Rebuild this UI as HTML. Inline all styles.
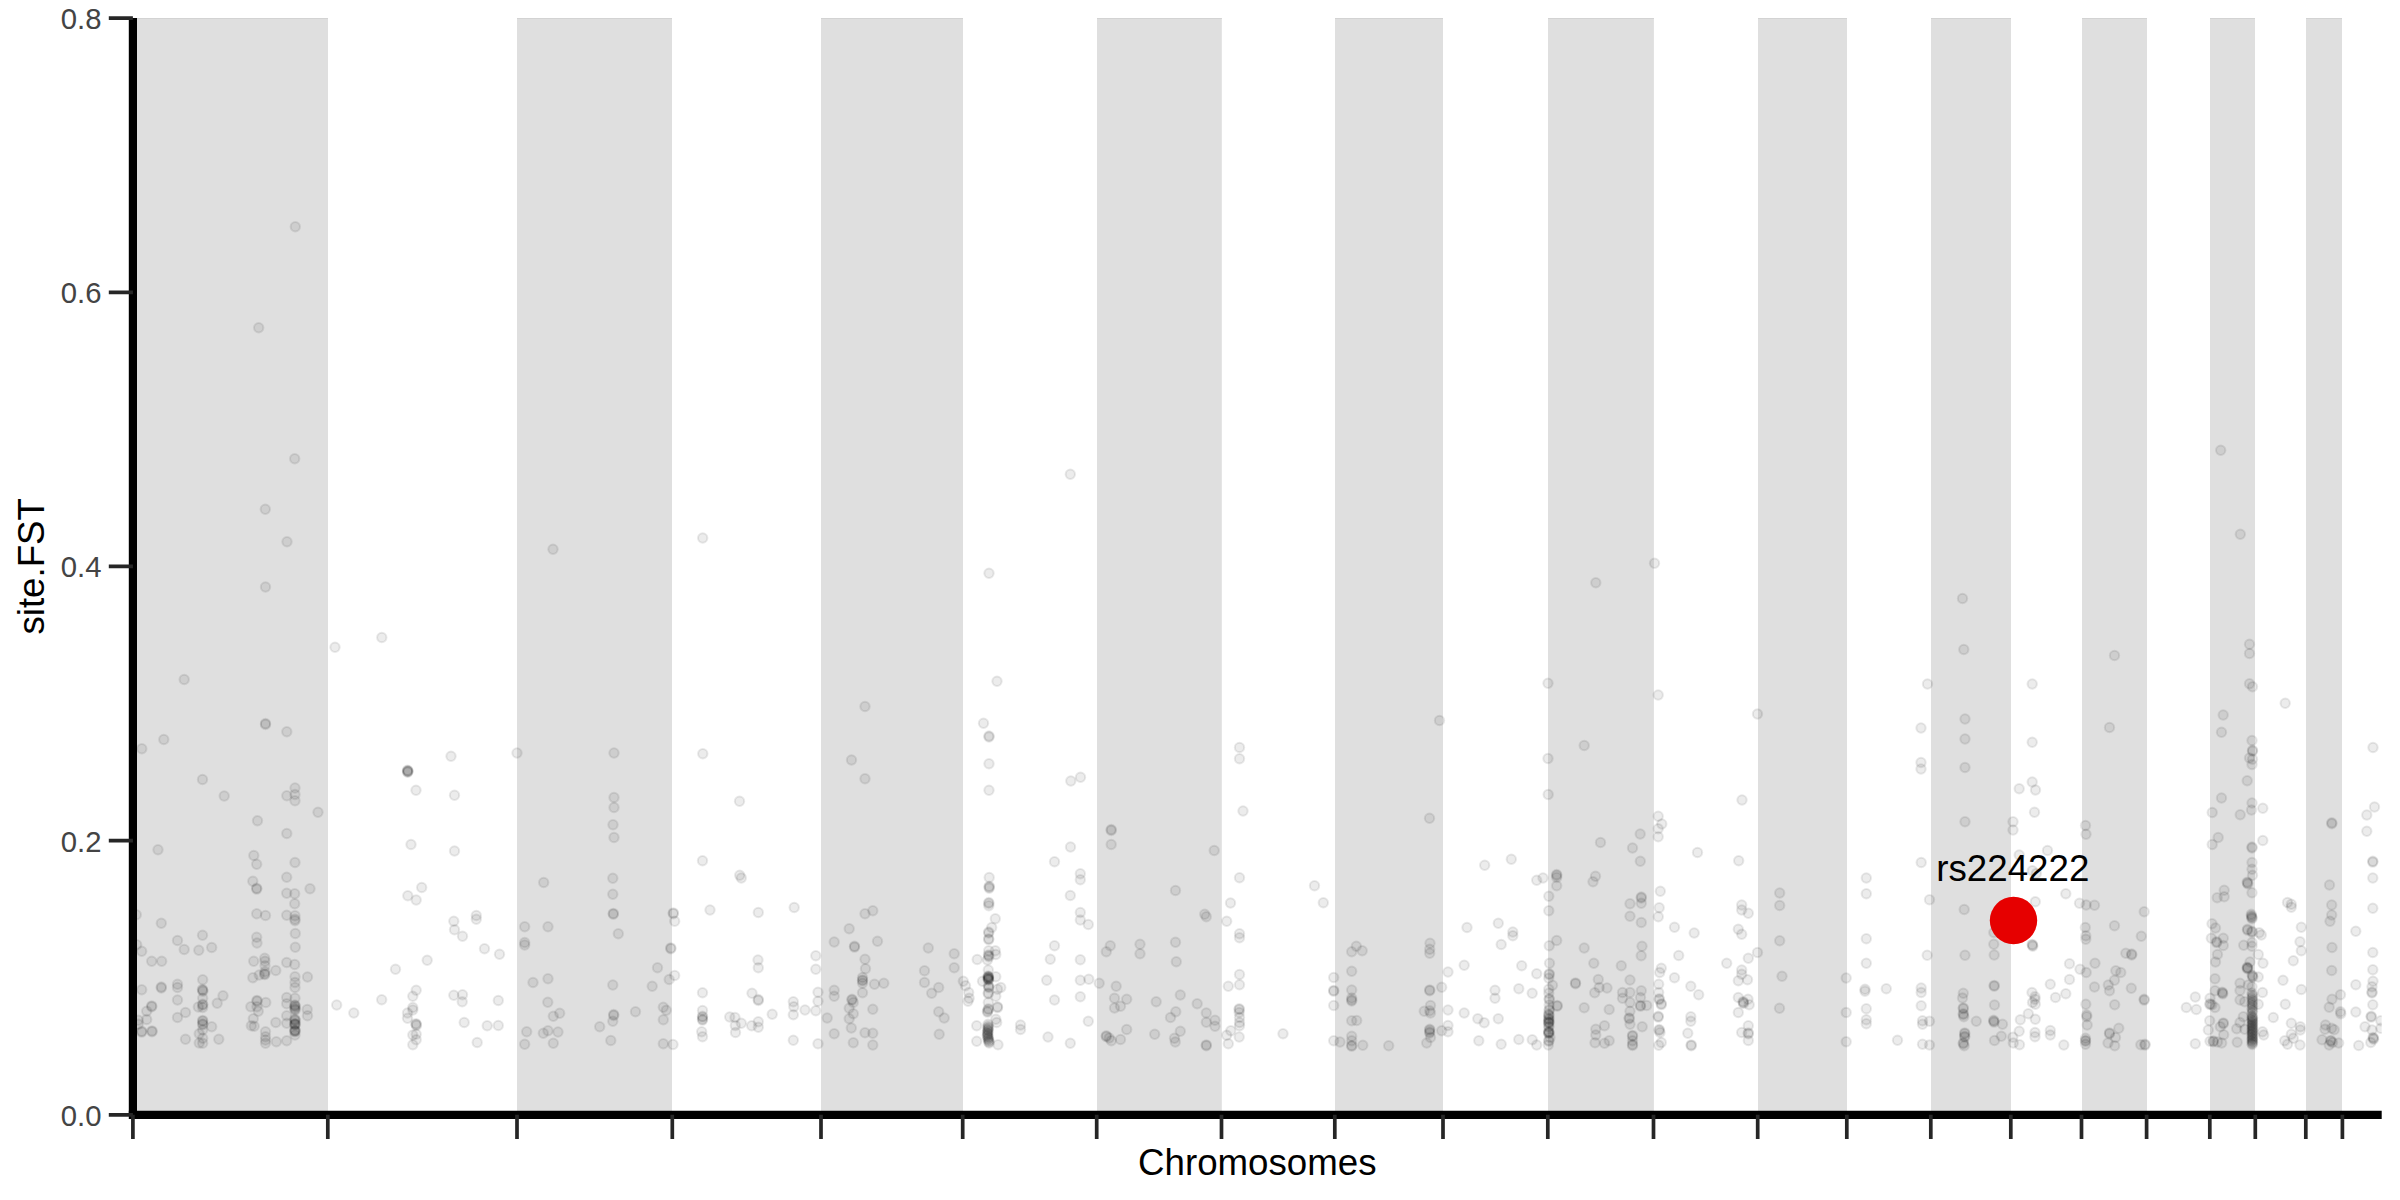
<!DOCTYPE html><html><head><meta charset="utf-8"><title>Manhattan plot</title><style>html,body{margin:0;padding:0;background:#fff}body{width:2400px;height:1200px;overflow:hidden}</style></head><body><svg width="2400" height="1200" viewBox="0 0 2400 1200" style="display:block">
<rect width="2400" height="1200" fill="#fff"/>
<rect x="132.9" y="18" width="195.1" height="1096.8" fill="#dfdfdf"/>
<rect x="132.9" y="18" width="195.1" height="1" fill="#d3d3d3"/>
<rect x="517.0" y="18" width="155.0" height="1096.8" fill="#dfdfdf"/>
<rect x="517.0" y="18" width="155.0" height="1" fill="#d3d3d3"/>
<rect x="821.0" y="18" width="142.0" height="1096.8" fill="#dfdfdf"/>
<rect x="821.0" y="18" width="142.0" height="1" fill="#d3d3d3"/>
<rect x="1097.0" y="18" width="124.8" height="1096.8" fill="#dfdfdf"/>
<rect x="1097.0" y="18" width="124.8" height="1" fill="#d3d3d3"/>
<rect x="1335.0" y="18" width="108.0" height="1096.8" fill="#dfdfdf"/>
<rect x="1335.0" y="18" width="108.0" height="1" fill="#d3d3d3"/>
<rect x="1548.0" y="18" width="105.9" height="1096.8" fill="#dfdfdf"/>
<rect x="1548.0" y="18" width="105.9" height="1" fill="#d3d3d3"/>
<rect x="1758.0" y="18" width="89.0" height="1096.8" fill="#dfdfdf"/>
<rect x="1758.0" y="18" width="89.0" height="1" fill="#d3d3d3"/>
<rect x="1931.0" y="18" width="80.0" height="1096.8" fill="#dfdfdf"/>
<rect x="1931.0" y="18" width="80.0" height="1" fill="#d3d3d3"/>
<rect x="2082.0" y="18" width="65.0" height="1096.8" fill="#dfdfdf"/>
<rect x="2082.0" y="18" width="65.0" height="1" fill="#d3d3d3"/>
<rect x="2210.0" y="18" width="45.0" height="1096.8" fill="#dfdfdf"/>
<rect x="2210.0" y="18" width="45.0" height="1" fill="#d3d3d3"/>
<rect x="2306.0" y="18" width="36.0" height="1096.8" fill="#dfdfdf"/>
<rect x="2306.0" y="18" width="36.0" height="1" fill="#d3d3d3"/>
<clipPath id="pc"><rect x="132.9" y="18.1" width="2248.8" height="1096.7"/></clipPath>
<g clip-path="url(#pc)" fill="#000" fill-opacity=".075" stroke="#000" stroke-opacity=".085" stroke-width="2">
<circle cx="988.0" cy="1026.0" r="4.7"/>
<circle cx="988.2" cy="1027.1" r="4.7"/>
<circle cx="988.4" cy="1028.1" r="4.7"/>
<circle cx="987.7" cy="1029.2" r="4.7"/>
<circle cx="988.0" cy="1030.2" r="4.7"/>
<circle cx="988.2" cy="1031.3" r="4.7"/>
<circle cx="987.5" cy="1032.4" r="4.7"/>
<circle cx="987.7" cy="1033.4" r="4.7"/>
<circle cx="987.9" cy="1034.5" r="4.7"/>
<circle cx="987.3" cy="1035.5" r="4.7"/>
<circle cx="987.8" cy="1036.6" r="4.7"/>
<circle cx="988.4" cy="1037.6" r="4.7"/>
<circle cx="988.0" cy="1038.7" r="4.7"/>
<circle cx="988.5" cy="1039.8" r="4.7"/>
<circle cx="989.0" cy="1040.9" r="4.7"/>
<circle cx="988.7" cy="1041.9" r="4.7"/>
<circle cx="989.2" cy="1043.0" r="4.7"/>
<circle cx="2252.0" cy="993.0" r="4.7"/>
<circle cx="2252.3" cy="994.7" r="4.7"/>
<circle cx="2252.6" cy="996.3" r="4.7"/>
<circle cx="2252.0" cy="998.0" r="4.7"/>
<circle cx="2252.3" cy="999.7" r="4.7"/>
<circle cx="2252.6" cy="1001.3" r="4.7"/>
<circle cx="2252.0" cy="1003.0" r="4.7"/>
<circle cx="2252.3" cy="1004.7" r="4.7"/>
<circle cx="2252.6" cy="1006.3" r="4.7"/>
<circle cx="2252.0" cy="1008.0" r="4.7"/>
<circle cx="2252.3" cy="1009.7" r="4.7"/>
<circle cx="2252.6" cy="1011.3" r="4.7"/>
<circle cx="2252.0" cy="1013.0" r="4.7"/>
<circle cx="2252.0" cy="1016.0" r="4.7"/>
<circle cx="2252.3" cy="1017.0" r="4.7"/>
<circle cx="2252.6" cy="1018.0" r="4.7"/>
<circle cx="2252.0" cy="1019.1" r="4.7"/>
<circle cx="2252.3" cy="1020.1" r="4.7"/>
<circle cx="2252.6" cy="1021.1" r="4.7"/>
<circle cx="2252.0" cy="1022.1" r="4.7"/>
<circle cx="2252.3" cy="1023.1" r="4.7"/>
<circle cx="2252.6" cy="1024.1" r="4.7"/>
<circle cx="2252.0" cy="1025.2" r="4.7"/>
<circle cx="2252.3" cy="1026.2" r="4.7"/>
<circle cx="2252.6" cy="1027.2" r="4.7"/>
<circle cx="2252.0" cy="1028.2" r="4.7"/>
<circle cx="2252.3" cy="1029.2" r="4.7"/>
<circle cx="2252.6" cy="1030.2" r="4.7"/>
<circle cx="2252.0" cy="1031.3" r="4.7"/>
<circle cx="2252.3" cy="1032.3" r="4.7"/>
<circle cx="2252.6" cy="1033.3" r="4.7"/>
<circle cx="2252.0" cy="1034.3" r="4.7"/>
<circle cx="2252.3" cy="1035.3" r="4.7"/>
<circle cx="2252.6" cy="1036.4" r="4.7"/>
<circle cx="2252.0" cy="1037.4" r="4.7"/>
<circle cx="2252.3" cy="1038.4" r="4.7"/>
<circle cx="2252.6" cy="1039.4" r="4.7"/>
<circle cx="2252.0" cy="1040.4" r="4.7"/>
<circle cx="2252.3" cy="1041.4" r="4.7"/>
<circle cx="2252.6" cy="1042.5" r="4.7"/>
<circle cx="2252.0" cy="1043.5" r="4.7"/>
<circle cx="2252.3" cy="1044.5" r="4.7"/>
<circle cx="136.3" cy="914.7" r="4.7"/>
<circle cx="136.7" cy="944.7" r="4.7"/>
<circle cx="141.7" cy="951.3" r="4.7"/>
<circle cx="161.3" cy="923.3" r="4.7"/>
<circle cx="151.7" cy="961.3" r="4.7"/>
<circle cx="161.7" cy="961.2" r="4.7"/>
<circle cx="141.7" cy="989.7" r="4.7"/>
<circle cx="161.3" cy="987.0" r="4.7"/>
<circle cx="161.3" cy="988.0" r="4.7"/>
<circle cx="151.7" cy="1005.9" r="4.7"/>
<circle cx="151.7" cy="1006.8" r="4.7"/>
<circle cx="146.7" cy="1011.3" r="4.7"/>
<circle cx="146.7" cy="1019.5" r="4.7"/>
<circle cx="138.3" cy="1020.3" r="4.7"/>
<circle cx="141.7" cy="1031.2" r="4.7"/>
<circle cx="141.7" cy="1032.1" r="4.7"/>
<circle cx="152.0" cy="1030.9" r="4.7"/>
<circle cx="152.0" cy="1031.8" r="4.7"/>
<circle cx="138.3" cy="1024.2" r="4.7"/>
<circle cx="177.5" cy="940.5" r="4.7"/>
<circle cx="177.5" cy="984.2" r="4.7"/>
<circle cx="177.5" cy="987.5" r="4.7"/>
<circle cx="177.5" cy="1000.0" r="4.7"/>
<circle cx="177.5" cy="1017.5" r="4.7"/>
<circle cx="184.2" cy="949.5" r="4.7"/>
<circle cx="185.5" cy="1012.5" r="4.7"/>
<circle cx="185.5" cy="1039.2" r="4.7"/>
<circle cx="202.5" cy="935.3" r="4.7"/>
<circle cx="198.8" cy="950.2" r="4.7"/>
<circle cx="211.7" cy="947.5" r="4.7"/>
<circle cx="202.7" cy="979.7" r="4.7"/>
<circle cx="202.4" cy="989.4" r="4.7"/>
<circle cx="202.7" cy="990.3" r="4.7"/>
<circle cx="202.9" cy="991.2" r="4.7"/>
<circle cx="202.7" cy="998.3" r="4.7"/>
<circle cx="202.7" cy="1004.2" r="4.7"/>
<circle cx="202.7" cy="1005.1" r="4.7"/>
<circle cx="198.3" cy="1007.0" r="4.7"/>
<circle cx="202.7" cy="1007.5" r="4.7"/>
<circle cx="202.7" cy="1020.4" r="4.7"/>
<circle cx="202.7" cy="1021.3" r="4.7"/>
<circle cx="202.7" cy="1023.7" r="4.7"/>
<circle cx="202.7" cy="1024.6" r="4.7"/>
<circle cx="202.7" cy="1030.0" r="4.7"/>
<circle cx="199.2" cy="1033.7" r="4.7"/>
<circle cx="202.7" cy="1038.3" r="4.7"/>
<circle cx="199.2" cy="1043.0" r="4.7"/>
<circle cx="202.7" cy="1043.3" r="4.7"/>
<circle cx="223.0" cy="995.8" r="4.7"/>
<circle cx="217.2" cy="1003.3" r="4.7"/>
<circle cx="211.7" cy="1026.7" r="4.7"/>
<circle cx="218.8" cy="1039.2" r="4.7"/>
<circle cx="256.7" cy="864.2" r="4.7"/>
<circle cx="252.8" cy="881.2" r="4.7"/>
<circle cx="256.7" cy="888.2" r="4.7"/>
<circle cx="256.7" cy="889.1" r="4.7"/>
<circle cx="256.7" cy="913.8" r="4.7"/>
<circle cx="265.5" cy="915.5" r="4.7"/>
<circle cx="256.7" cy="937.2" r="4.7"/>
<circle cx="257.0" cy="943.0" r="4.7"/>
<circle cx="253.7" cy="961.3" r="4.7"/>
<circle cx="264.7" cy="958.3" r="4.7"/>
<circle cx="265.0" cy="961.3" r="4.7"/>
<circle cx="265.0" cy="965.8" r="4.7"/>
<circle cx="265.0" cy="971.7" r="4.7"/>
<circle cx="264.7" cy="973.7" r="4.7"/>
<circle cx="264.7" cy="974.6" r="4.7"/>
<circle cx="259.2" cy="975.0" r="4.7"/>
<circle cx="252.8" cy="977.7" r="4.7"/>
<circle cx="275.8" cy="970.5" r="4.7"/>
<circle cx="257.0" cy="1000.4" r="4.7"/>
<circle cx="257.0" cy="1001.3" r="4.7"/>
<circle cx="265.8" cy="1002.5" r="4.7"/>
<circle cx="250.8" cy="1006.7" r="4.7"/>
<circle cx="258.3" cy="1011.3" r="4.7"/>
<circle cx="257.0" cy="1006.7" r="4.7"/>
<circle cx="253.3" cy="1018.7" r="4.7"/>
<circle cx="251.3" cy="1025.8" r="4.7"/>
<circle cx="254.2" cy="1026.2" r="4.7"/>
<circle cx="265.5" cy="1031.7" r="4.7"/>
<circle cx="265.5" cy="1036.7" r="4.7"/>
<circle cx="265.5" cy="1040.0" r="4.7"/>
<circle cx="265.5" cy="1043.3" r="4.7"/>
<circle cx="275.8" cy="1022.5" r="4.7"/>
<circle cx="276.3" cy="1041.7" r="4.7"/>
<circle cx="286.7" cy="877.2" r="4.7"/>
<circle cx="286.7" cy="893.3" r="4.7"/>
<circle cx="286.7" cy="915.3" r="4.7"/>
<circle cx="286.7" cy="962.5" r="4.7"/>
<circle cx="286.7" cy="997.5" r="4.7"/>
<circle cx="286.7" cy="1003.7" r="4.7"/>
<circle cx="286.7" cy="1015.8" r="4.7"/>
<circle cx="286.7" cy="1023.3" r="4.7"/>
<circle cx="286.7" cy="1040.8" r="4.7"/>
<circle cx="295.0" cy="862.5" r="4.7"/>
<circle cx="294.7" cy="893.8" r="4.7"/>
<circle cx="294.7" cy="903.8" r="4.7"/>
<circle cx="295.0" cy="915.8" r="4.7"/>
<circle cx="295.0" cy="919.2" r="4.7"/>
<circle cx="295.0" cy="920.8" r="4.7"/>
<circle cx="295.3" cy="933.5" r="4.7"/>
<circle cx="295.3" cy="947.3" r="4.7"/>
<circle cx="294.7" cy="964.5" r="4.7"/>
<circle cx="295.0" cy="976.7" r="4.7"/>
<circle cx="295.0" cy="982.5" r="4.7"/>
<circle cx="295.0" cy="987.5" r="4.7"/>
<circle cx="295.0" cy="998.3" r="4.7"/>
<circle cx="294.8" cy="1004.9" r="4.7"/>
<circle cx="295.0" cy="1005.8" r="4.7"/>
<circle cx="295.2" cy="1006.7" r="4.7"/>
<circle cx="294.8" cy="1008.3" r="4.7"/>
<circle cx="295.0" cy="1009.2" r="4.7"/>
<circle cx="295.2" cy="1010.1" r="4.7"/>
<circle cx="294.8" cy="1019.1" r="4.7"/>
<circle cx="295.0" cy="1020.0" r="4.7"/>
<circle cx="295.2" cy="1020.9" r="4.7"/>
<circle cx="294.8" cy="1023.4" r="4.7"/>
<circle cx="295.0" cy="1023.9" r="4.7"/>
<circle cx="295.2" cy="1024.4" r="4.7"/>
<circle cx="294.8" cy="1024.9" r="4.7"/>
<circle cx="294.8" cy="1030.1" r="4.7"/>
<circle cx="295.0" cy="1030.6" r="4.7"/>
<circle cx="295.2" cy="1031.1" r="4.7"/>
<circle cx="294.8" cy="1031.6" r="4.7"/>
<circle cx="295.0" cy="1035.0" r="4.7"/>
<circle cx="310.0" cy="888.8" r="4.7"/>
<circle cx="307.5" cy="977.0" r="4.7"/>
<circle cx="307.2" cy="1009.5" r="4.7"/>
<circle cx="307.5" cy="1015.8" r="4.7"/>
<circle cx="336.7" cy="1005.0" r="4.7"/>
<circle cx="353.8" cy="1013.0" r="4.7"/>
<circle cx="381.7" cy="999.7" r="4.7"/>
<circle cx="395.5" cy="969.2" r="4.7"/>
<circle cx="427.2" cy="960.3" r="4.7"/>
<circle cx="421.7" cy="887.5" r="4.7"/>
<circle cx="407.8" cy="895.8" r="4.7"/>
<circle cx="416.2" cy="900.0" r="4.7"/>
<circle cx="416.2" cy="990.3" r="4.7"/>
<circle cx="412.8" cy="996.3" r="4.7"/>
<circle cx="412.8" cy="1007.5" r="4.7"/>
<circle cx="412.8" cy="1010.0" r="4.7"/>
<circle cx="407.5" cy="1013.0" r="4.7"/>
<circle cx="407.5" cy="1018.3" r="4.7"/>
<circle cx="415.9" cy="1023.6" r="4.7"/>
<circle cx="416.2" cy="1024.5" r="4.7"/>
<circle cx="416.4" cy="1025.4" r="4.7"/>
<circle cx="412.8" cy="1035.0" r="4.7"/>
<circle cx="416.2" cy="1034.2" r="4.7"/>
<circle cx="416.2" cy="1039.7" r="4.7"/>
<circle cx="412.8" cy="1044.7" r="4.7"/>
<circle cx="453.8" cy="921.3" r="4.7"/>
<circle cx="454.5" cy="929.7" r="4.7"/>
<circle cx="462.5" cy="936.3" r="4.7"/>
<circle cx="476.3" cy="915.5" r="4.7"/>
<circle cx="476.3" cy="919.2" r="4.7"/>
<circle cx="484.5" cy="948.7" r="4.7"/>
<circle cx="499.5" cy="954.3" r="4.7"/>
<circle cx="453.8" cy="995.3" r="4.7"/>
<circle cx="462.5" cy="994.7" r="4.7"/>
<circle cx="462.2" cy="1001.7" r="4.7"/>
<circle cx="498.3" cy="1000.5" r="4.7"/>
<circle cx="464.2" cy="1022.5" r="4.7"/>
<circle cx="487.2" cy="1025.8" r="4.7"/>
<circle cx="498.3" cy="1025.5" r="4.7"/>
<circle cx="477.2" cy="1042.5" r="4.7"/>
<circle cx="524.7" cy="926.7" r="4.7"/>
<circle cx="524.7" cy="942.5" r="4.7"/>
<circle cx="524.7" cy="945.0" r="4.7"/>
<circle cx="526.7" cy="1031.7" r="4.7"/>
<circle cx="524.7" cy="1044.2" r="4.7"/>
<circle cx="533.0" cy="982.5" r="4.7"/>
<circle cx="543.7" cy="882.5" r="4.7"/>
<circle cx="548.0" cy="926.7" r="4.7"/>
<circle cx="548.0" cy="978.7" r="4.7"/>
<circle cx="547.8" cy="1002.2" r="4.7"/>
<circle cx="559.7" cy="1013.3" r="4.7"/>
<circle cx="553.3" cy="1016.3" r="4.7"/>
<circle cx="548.0" cy="1030.8" r="4.7"/>
<circle cx="543.3" cy="1033.3" r="4.7"/>
<circle cx="558.0" cy="1032.0" r="4.7"/>
<circle cx="553.3" cy="1043.3" r="4.7"/>
<circle cx="612.8" cy="878.3" r="4.7"/>
<circle cx="612.8" cy="894.2" r="4.7"/>
<circle cx="613.3" cy="913.4" r="4.7"/>
<circle cx="613.3" cy="914.3" r="4.7"/>
<circle cx="618.3" cy="933.7" r="4.7"/>
<circle cx="612.8" cy="985.0" r="4.7"/>
<circle cx="613.7" cy="1014.5" r="4.7"/>
<circle cx="613.7" cy="1015.5" r="4.7"/>
<circle cx="612.8" cy="1021.3" r="4.7"/>
<circle cx="599.7" cy="1026.7" r="4.7"/>
<circle cx="610.8" cy="1040.5" r="4.7"/>
<circle cx="635.5" cy="1011.7" r="4.7"/>
<circle cx="657.5" cy="967.8" r="4.7"/>
<circle cx="652.2" cy="986.2" r="4.7"/>
<circle cx="669.2" cy="979.5" r="4.7"/>
<circle cx="674.7" cy="975.5" r="4.7"/>
<circle cx="663.3" cy="1007.2" r="4.7"/>
<circle cx="666.3" cy="1010.3" r="4.7"/>
<circle cx="663.3" cy="1019.7" r="4.7"/>
<circle cx="663.3" cy="1043.7" r="4.7"/>
<circle cx="673.0" cy="1044.5" r="4.7"/>
<circle cx="673.3" cy="912.9" r="4.7"/>
<circle cx="673.3" cy="913.8" r="4.7"/>
<circle cx="674.7" cy="921.3" r="4.7"/>
<circle cx="670.8" cy="947.9" r="4.7"/>
<circle cx="670.8" cy="948.8" r="4.7"/>
<circle cx="702.5" cy="860.8" r="4.7"/>
<circle cx="739.7" cy="875.3" r="4.7"/>
<circle cx="741.3" cy="878.0" r="4.7"/>
<circle cx="710.0" cy="910.0" r="4.7"/>
<circle cx="758.3" cy="912.5" r="4.7"/>
<circle cx="794.2" cy="907.5" r="4.7"/>
<circle cx="758.0" cy="960.0" r="4.7"/>
<circle cx="758.3" cy="967.8" r="4.7"/>
<circle cx="815.8" cy="955.8" r="4.7"/>
<circle cx="815.8" cy="969.2" r="4.7"/>
<circle cx="702.5" cy="992.8" r="4.7"/>
<circle cx="752.0" cy="993.3" r="4.7"/>
<circle cx="758.3" cy="999.5" r="4.7"/>
<circle cx="758.3" cy="1000.5" r="4.7"/>
<circle cx="818.0" cy="992.2" r="4.7"/>
<circle cx="818.0" cy="1001.2" r="4.7"/>
<circle cx="793.3" cy="1001.7" r="4.7"/>
<circle cx="793.8" cy="1006.7" r="4.7"/>
<circle cx="805.0" cy="1010.0" r="4.7"/>
<circle cx="815.8" cy="1010.8" r="4.7"/>
<circle cx="793.3" cy="1014.7" r="4.7"/>
<circle cx="772.2" cy="1014.2" r="4.7"/>
<circle cx="702.5" cy="1010.5" r="4.7"/>
<circle cx="702.5" cy="1016.2" r="4.7"/>
<circle cx="702.5" cy="1017.1" r="4.7"/>
<circle cx="702.5" cy="1019.2" r="4.7"/>
<circle cx="702.5" cy="1020.1" r="4.7"/>
<circle cx="701.7" cy="1031.7" r="4.7"/>
<circle cx="702.5" cy="1036.7" r="4.7"/>
<circle cx="729.7" cy="1017.0" r="4.7"/>
<circle cx="735.0" cy="1017.5" r="4.7"/>
<circle cx="741.3" cy="1023.3" r="4.7"/>
<circle cx="735.3" cy="1025.5" r="4.7"/>
<circle cx="735.5" cy="1032.5" r="4.7"/>
<circle cx="751.7" cy="1025.8" r="4.7"/>
<circle cx="758.3" cy="1021.7" r="4.7"/>
<circle cx="758.3" cy="1027.2" r="4.7"/>
<circle cx="793.3" cy="1040.3" r="4.7"/>
<circle cx="818.0" cy="1043.8" r="4.7"/>
<circle cx="872.8" cy="910.8" r="4.7"/>
<circle cx="865.0" cy="913.8" r="4.7"/>
<circle cx="849.2" cy="928.7" r="4.7"/>
<circle cx="834.2" cy="942.0" r="4.7"/>
<circle cx="877.5" cy="941.2" r="4.7"/>
<circle cx="854.5" cy="946.2" r="4.7"/>
<circle cx="854.5" cy="947.1" r="4.7"/>
<circle cx="865.0" cy="959.2" r="4.7"/>
<circle cx="865.5" cy="968.8" r="4.7"/>
<circle cx="862.5" cy="977.5" r="4.7"/>
<circle cx="862.5" cy="979.9" r="4.7"/>
<circle cx="862.5" cy="980.8" r="4.7"/>
<circle cx="862.5" cy="983.3" r="4.7"/>
<circle cx="874.5" cy="984.2" r="4.7"/>
<circle cx="883.8" cy="983.3" r="4.7"/>
<circle cx="862.5" cy="992.8" r="4.7"/>
<circle cx="834.2" cy="990.3" r="4.7"/>
<circle cx="834.2" cy="996.3" r="4.7"/>
<circle cx="852.0" cy="999.2" r="4.7"/>
<circle cx="852.0" cy="1000.1" r="4.7"/>
<circle cx="853.3" cy="1002.5" r="4.7"/>
<circle cx="849.2" cy="1008.3" r="4.7"/>
<circle cx="853.3" cy="1013.7" r="4.7"/>
<circle cx="849.2" cy="1018.7" r="4.7"/>
<circle cx="827.2" cy="1018.0" r="4.7"/>
<circle cx="872.8" cy="1009.2" r="4.7"/>
<circle cx="851.3" cy="1028.0" r="4.7"/>
<circle cx="834.2" cy="1033.8" r="4.7"/>
<circle cx="865.0" cy="1032.8" r="4.7"/>
<circle cx="872.8" cy="1033.3" r="4.7"/>
<circle cx="853.3" cy="1042.8" r="4.7"/>
<circle cx="872.8" cy="1045.0" r="4.7"/>
<circle cx="928.3" cy="948.0" r="4.7"/>
<circle cx="924.5" cy="970.8" r="4.7"/>
<circle cx="924.5" cy="982.5" r="4.7"/>
<circle cx="931.7" cy="993.3" r="4.7"/>
<circle cx="954.2" cy="953.8" r="4.7"/>
<circle cx="954.2" cy="967.8" r="4.7"/>
<circle cx="938.7" cy="987.5" r="4.7"/>
<circle cx="938.7" cy="1011.7" r="4.7"/>
<circle cx="944.2" cy="1018.0" r="4.7"/>
<circle cx="939.2" cy="1034.2" r="4.7"/>
<circle cx="963.3" cy="981.3" r="4.7"/>
<circle cx="965.5" cy="985.8" r="4.7"/>
<circle cx="968.7" cy="992.5" r="4.7"/>
<circle cx="969.2" cy="998.3" r="4.7"/>
<circle cx="968.0" cy="1001.3" r="4.7"/>
<circle cx="977.2" cy="959.5" r="4.7"/>
<circle cx="976.7" cy="1025.8" r="4.7"/>
<circle cx="976.7" cy="1041.2" r="4.7"/>
<circle cx="989.2" cy="877.5" r="4.7"/>
<circle cx="989.2" cy="886.2" r="4.7"/>
<circle cx="989.2" cy="887.1" r="4.7"/>
<circle cx="989.2" cy="888.3" r="4.7"/>
<circle cx="988.8" cy="902.5" r="4.7"/>
<circle cx="988.8" cy="903.5" r="4.7"/>
<circle cx="988.8" cy="905.8" r="4.7"/>
<circle cx="995.3" cy="918.7" r="4.7"/>
<circle cx="991.7" cy="927.5" r="4.7"/>
<circle cx="988.7" cy="932.0" r="4.7"/>
<circle cx="988.7" cy="933.0" r="4.7"/>
<circle cx="988.7" cy="938.7" r="4.7"/>
<circle cx="988.7" cy="939.6" r="4.7"/>
<circle cx="988.7" cy="950.8" r="4.7"/>
<circle cx="995.3" cy="950.8" r="4.7"/>
<circle cx="995.8" cy="954.5" r="4.7"/>
<circle cx="988.4" cy="954.9" r="4.7"/>
<circle cx="988.7" cy="955.8" r="4.7"/>
<circle cx="988.9" cy="956.7" r="4.7"/>
<circle cx="987.5" cy="960.0" r="4.7"/>
<circle cx="988.3" cy="970.0" r="4.7"/>
<circle cx="988.1" cy="976.0" r="4.7"/>
<circle cx="988.3" cy="976.5" r="4.7"/>
<circle cx="988.6" cy="977.0" r="4.7"/>
<circle cx="988.1" cy="977.5" r="4.7"/>
<circle cx="988.3" cy="978.0" r="4.7"/>
<circle cx="988.6" cy="978.5" r="4.7"/>
<circle cx="988.1" cy="979.0" r="4.7"/>
<circle cx="988.3" cy="979.5" r="4.7"/>
<circle cx="988.6" cy="980.0" r="4.7"/>
<circle cx="995.8" cy="976.7" r="4.7"/>
<circle cx="982.5" cy="981.3" r="4.7"/>
<circle cx="988.4" cy="985.8" r="4.7"/>
<circle cx="988.7" cy="986.7" r="4.7"/>
<circle cx="988.9" cy="987.6" r="4.7"/>
<circle cx="1000.8" cy="987.5" r="4.7"/>
<circle cx="997.5" cy="989.2" r="4.7"/>
<circle cx="988.3" cy="992.9" r="4.7"/>
<circle cx="988.3" cy="993.8" r="4.7"/>
<circle cx="995.8" cy="996.2" r="4.7"/>
<circle cx="988.3" cy="1002.5" r="4.7"/>
<circle cx="988.3" cy="1008.7" r="4.7"/>
<circle cx="988.3" cy="1009.6" r="4.7"/>
<circle cx="997.5" cy="1006.7" r="4.7"/>
<circle cx="997.5" cy="1007.6" r="4.7"/>
<circle cx="987.5" cy="1011.2" r="4.7"/>
<circle cx="987.5" cy="1012.1" r="4.7"/>
<circle cx="995.8" cy="1019.2" r="4.7"/>
<circle cx="996.7" cy="1022.5" r="4.7"/>
<circle cx="988.0" cy="1024.2" r="4.7"/>
<circle cx="998.0" cy="1044.7" r="4.7"/>
<circle cx="1020.5" cy="1025.0" r="4.7"/>
<circle cx="1020.5" cy="1029.5" r="4.7"/>
<circle cx="1054.5" cy="861.7" r="4.7"/>
<circle cx="1080.3" cy="873.8" r="4.7"/>
<circle cx="1080.3" cy="879.7" r="4.7"/>
<circle cx="1070.3" cy="895.5" r="4.7"/>
<circle cx="1080.3" cy="912.5" r="4.7"/>
<circle cx="1080.3" cy="920.0" r="4.7"/>
<circle cx="1088.3" cy="924.5" r="4.7"/>
<circle cx="1054.5" cy="945.8" r="4.7"/>
<circle cx="1050.3" cy="959.2" r="4.7"/>
<circle cx="1080.3" cy="959.7" r="4.7"/>
<circle cx="1046.7" cy="980.3" r="4.7"/>
<circle cx="1080.3" cy="980.3" r="4.7"/>
<circle cx="1088.8" cy="979.2" r="4.7"/>
<circle cx="1054.5" cy="1000.0" r="4.7"/>
<circle cx="1080.3" cy="996.7" r="4.7"/>
<circle cx="1088.3" cy="1021.2" r="4.7"/>
<circle cx="1048.0" cy="1037.0" r="4.7"/>
<circle cx="1070.3" cy="1043.3" r="4.7"/>
<circle cx="1099.2" cy="983.3" r="4.7"/>
<circle cx="1110.3" cy="945.8" r="4.7"/>
<circle cx="1106.3" cy="951.7" r="4.7"/>
<circle cx="1140.0" cy="944.2" r="4.7"/>
<circle cx="1140.0" cy="953.7" r="4.7"/>
<circle cx="1175.5" cy="890.5" r="4.7"/>
<circle cx="1175.5" cy="942.2" r="4.7"/>
<circle cx="1176.3" cy="961.7" r="4.7"/>
<circle cx="1204.7" cy="914.2" r="4.7"/>
<circle cx="1206.3" cy="916.7" r="4.7"/>
<circle cx="1116.2" cy="986.2" r="4.7"/>
<circle cx="1114.5" cy="998.3" r="4.7"/>
<circle cx="1126.7" cy="999.2" r="4.7"/>
<circle cx="1120.5" cy="1006.3" r="4.7"/>
<circle cx="1114.5" cy="1008.0" r="4.7"/>
<circle cx="1156.2" cy="1001.8" r="4.7"/>
<circle cx="1180.3" cy="995.0" r="4.7"/>
<circle cx="1197.2" cy="1003.7" r="4.7"/>
<circle cx="1175.8" cy="1011.7" r="4.7"/>
<circle cx="1170.5" cy="1017.5" r="4.7"/>
<circle cx="1206.3" cy="1013.0" r="4.7"/>
<circle cx="1215.0" cy="1020.3" r="4.7"/>
<circle cx="1206.3" cy="1022.2" r="4.7"/>
<circle cx="1215.0" cy="1026.2" r="4.7"/>
<circle cx="1126.7" cy="1029.5" r="4.7"/>
<circle cx="1106.3" cy="1035.7" r="4.7"/>
<circle cx="1106.3" cy="1036.6" r="4.7"/>
<circle cx="1109.2" cy="1038.0" r="4.7"/>
<circle cx="1111.3" cy="1040.8" r="4.7"/>
<circle cx="1120.5" cy="1039.5" r="4.7"/>
<circle cx="1154.7" cy="1034.2" r="4.7"/>
<circle cx="1180.3" cy="1031.2" r="4.7"/>
<circle cx="1174.5" cy="1038.3" r="4.7"/>
<circle cx="1175.3" cy="1042.0" r="4.7"/>
<circle cx="1206.3" cy="1044.9" r="4.7"/>
<circle cx="1206.3" cy="1045.8" r="4.7"/>
<circle cx="1239.5" cy="877.8" r="4.7"/>
<circle cx="1230.5" cy="903.0" r="4.7"/>
<circle cx="1226.7" cy="921.2" r="4.7"/>
<circle cx="1239.5" cy="933.8" r="4.7"/>
<circle cx="1239.5" cy="937.8" r="4.7"/>
<circle cx="1314.5" cy="885.8" r="4.7"/>
<circle cx="1323.3" cy="902.7" r="4.7"/>
<circle cx="1239.5" cy="974.5" r="4.7"/>
<circle cx="1239.5" cy="984.7" r="4.7"/>
<circle cx="1228.3" cy="986.2" r="4.7"/>
<circle cx="1239.2" cy="1008.7" r="4.7"/>
<circle cx="1239.2" cy="1009.6" r="4.7"/>
<circle cx="1239.2" cy="1012.5" r="4.7"/>
<circle cx="1239.5" cy="1017.5" r="4.7"/>
<circle cx="1239.5" cy="1022.5" r="4.7"/>
<circle cx="1239.5" cy="1025.8" r="4.7"/>
<circle cx="1230.8" cy="1030.8" r="4.7"/>
<circle cx="1226.7" cy="1035.3" r="4.7"/>
<circle cx="1239.2" cy="1037.0" r="4.7"/>
<circle cx="1228.3" cy="1043.8" r="4.7"/>
<circle cx="1283.0" cy="1033.8" r="4.7"/>
<circle cx="1333.7" cy="977.5" r="4.7"/>
<circle cx="1333.7" cy="990.4" r="4.7"/>
<circle cx="1333.7" cy="991.3" r="4.7"/>
<circle cx="1333.7" cy="1005.5" r="4.7"/>
<circle cx="1333.7" cy="1040.8" r="4.7"/>
<circle cx="1340.0" cy="1042.0" r="4.7"/>
<circle cx="1356.3" cy="946.3" r="4.7"/>
<circle cx="1351.7" cy="951.7" r="4.7"/>
<circle cx="1362.2" cy="950.8" r="4.7"/>
<circle cx="1351.7" cy="971.3" r="4.7"/>
<circle cx="1351.7" cy="990.0" r="4.7"/>
<circle cx="1351.7" cy="998.0" r="4.7"/>
<circle cx="1351.7" cy="1000.0" r="4.7"/>
<circle cx="1351.7" cy="1001.0" r="4.7"/>
<circle cx="1351.7" cy="1020.8" r="4.7"/>
<circle cx="1356.7" cy="1020.5" r="4.7"/>
<circle cx="1351.7" cy="1036.2" r="4.7"/>
<circle cx="1351.7" cy="1040.8" r="4.7"/>
<circle cx="1351.7" cy="1045.4" r="4.7"/>
<circle cx="1351.7" cy="1046.3" r="4.7"/>
<circle cx="1362.8" cy="1045.3" r="4.7"/>
<circle cx="1388.7" cy="1045.8" r="4.7"/>
<circle cx="1430.0" cy="943.3" r="4.7"/>
<circle cx="1429.7" cy="949.2" r="4.7"/>
<circle cx="1429.7" cy="953.3" r="4.7"/>
<circle cx="1429.7" cy="989.9" r="4.7"/>
<circle cx="1429.7" cy="990.8" r="4.7"/>
<circle cx="1441.7" cy="987.2" r="4.7"/>
<circle cx="1430.5" cy="1005.5" r="4.7"/>
<circle cx="1424.2" cy="1011.3" r="4.7"/>
<circle cx="1429.7" cy="1010.8" r="4.7"/>
<circle cx="1430.5" cy="1013.0" r="4.7"/>
<circle cx="1429.7" cy="1029.2" r="4.7"/>
<circle cx="1429.7" cy="1030.1" r="4.7"/>
<circle cx="1429.7" cy="1032.0" r="4.7"/>
<circle cx="1429.7" cy="1033.0" r="4.7"/>
<circle cx="1430.5" cy="1037.5" r="4.7"/>
<circle cx="1426.7" cy="1043.0" r="4.7"/>
<circle cx="1441.7" cy="1030.8" r="4.7"/>
<circle cx="1484.7" cy="865.3" r="4.7"/>
<circle cx="1511.3" cy="859.2" r="4.7"/>
<circle cx="1536.7" cy="880.3" r="4.7"/>
<circle cx="1543.0" cy="878.0" r="4.7"/>
<circle cx="1467.0" cy="927.5" r="4.7"/>
<circle cx="1498.3" cy="923.3" r="4.7"/>
<circle cx="1512.8" cy="932.0" r="4.7"/>
<circle cx="1512.8" cy="935.8" r="4.7"/>
<circle cx="1501.2" cy="944.5" r="4.7"/>
<circle cx="1464.2" cy="965.3" r="4.7"/>
<circle cx="1448.0" cy="972.0" r="4.7"/>
<circle cx="1521.7" cy="965.8" r="4.7"/>
<circle cx="1536.7" cy="973.8" r="4.7"/>
<circle cx="1495.0" cy="990.3" r="4.7"/>
<circle cx="1495.0" cy="998.3" r="4.7"/>
<circle cx="1518.8" cy="988.8" r="4.7"/>
<circle cx="1532.2" cy="993.3" r="4.7"/>
<circle cx="1448.0" cy="1010.0" r="4.7"/>
<circle cx="1464.2" cy="1013.0" r="4.7"/>
<circle cx="1477.8" cy="1018.8" r="4.7"/>
<circle cx="1484.2" cy="1022.8" r="4.7"/>
<circle cx="1498.3" cy="1018.8" r="4.7"/>
<circle cx="1448.0" cy="1025.5" r="4.7"/>
<circle cx="1448.0" cy="1031.7" r="4.7"/>
<circle cx="1478.8" cy="1040.8" r="4.7"/>
<circle cx="1501.2" cy="1044.2" r="4.7"/>
<circle cx="1518.8" cy="1039.5" r="4.7"/>
<circle cx="1532.2" cy="1039.7" r="4.7"/>
<circle cx="1536.7" cy="1045.0" r="4.7"/>
<circle cx="1548.8" cy="896.2" r="4.7"/>
<circle cx="1548.8" cy="910.8" r="4.7"/>
<circle cx="1549.2" cy="945.8" r="4.7"/>
<circle cx="1549.5" cy="963.3" r="4.7"/>
<circle cx="1549.2" cy="973.7" r="4.7"/>
<circle cx="1549.2" cy="974.6" r="4.7"/>
<circle cx="1548.8" cy="978.3" r="4.7"/>
<circle cx="1552.5" cy="985.3" r="4.7"/>
<circle cx="1548.8" cy="989.2" r="4.7"/>
<circle cx="1548.8" cy="993.3" r="4.7"/>
<circle cx="1549.2" cy="998.7" r="4.7"/>
<circle cx="1549.2" cy="999.6" r="4.7"/>
<circle cx="1549.2" cy="1005.0" r="4.7"/>
<circle cx="1549.2" cy="1009.5" r="4.7"/>
<circle cx="1549.2" cy="1010.5" r="4.7"/>
<circle cx="1548.6" cy="1014.1" r="4.7"/>
<circle cx="1548.8" cy="1015.0" r="4.7"/>
<circle cx="1549.1" cy="1015.9" r="4.7"/>
<circle cx="1548.6" cy="1018.3" r="4.7"/>
<circle cx="1548.8" cy="1019.2" r="4.7"/>
<circle cx="1549.1" cy="1020.1" r="4.7"/>
<circle cx="1548.6" cy="1021.8" r="4.7"/>
<circle cx="1548.8" cy="1022.2" r="4.7"/>
<circle cx="1549.1" cy="1022.8" r="4.7"/>
<circle cx="1548.6" cy="1023.2" r="4.7"/>
<circle cx="1548.8" cy="1026.2" r="4.7"/>
<circle cx="1548.8" cy="1027.1" r="4.7"/>
<circle cx="1548.6" cy="1031.5" r="4.7"/>
<circle cx="1548.8" cy="1032.0" r="4.7"/>
<circle cx="1549.1" cy="1032.5" r="4.7"/>
<circle cx="1548.6" cy="1033.0" r="4.7"/>
<circle cx="1548.8" cy="1033.5" r="4.7"/>
<circle cx="1550.0" cy="1037.5" r="4.7"/>
<circle cx="1548.8" cy="1040.4" r="4.7"/>
<circle cx="1548.8" cy="1041.3" r="4.7"/>
<circle cx="1548.3" cy="1045.0" r="4.7"/>
<circle cx="1556.7" cy="874.5" r="4.7"/>
<circle cx="1556.7" cy="875.5" r="4.7"/>
<circle cx="1556.7" cy="877.5" r="4.7"/>
<circle cx="1556.7" cy="885.8" r="4.7"/>
<circle cx="1595.5" cy="876.3" r="4.7"/>
<circle cx="1593.0" cy="881.7" r="4.7"/>
<circle cx="1640.3" cy="861.3" r="4.7"/>
<circle cx="1641.3" cy="897.0" r="4.7"/>
<circle cx="1641.3" cy="898.0" r="4.7"/>
<circle cx="1641.3" cy="903.3" r="4.7"/>
<circle cx="1630.0" cy="903.7" r="4.7"/>
<circle cx="1630.0" cy="916.3" r="4.7"/>
<circle cx="1641.3" cy="922.5" r="4.7"/>
<circle cx="1556.7" cy="940.5" r="4.7"/>
<circle cx="1584.2" cy="948.0" r="4.7"/>
<circle cx="1642.0" cy="946.2" r="4.7"/>
<circle cx="1641.2" cy="955.8" r="4.7"/>
<circle cx="1593.8" cy="963.3" r="4.7"/>
<circle cx="1621.3" cy="965.8" r="4.7"/>
<circle cx="1598.3" cy="979.5" r="4.7"/>
<circle cx="1630.0" cy="980.0" r="4.7"/>
<circle cx="1575.5" cy="982.9" r="4.7"/>
<circle cx="1575.5" cy="983.8" r="4.7"/>
<circle cx="1599.2" cy="987.5" r="4.7"/>
<circle cx="1607.0" cy="988.0" r="4.7"/>
<circle cx="1594.7" cy="992.8" r="4.7"/>
<circle cx="1622.5" cy="992.5" r="4.7"/>
<circle cx="1630.0" cy="992.5" r="4.7"/>
<circle cx="1641.3" cy="990.8" r="4.7"/>
<circle cx="1622.5" cy="998.3" r="4.7"/>
<circle cx="1640.5" cy="997.5" r="4.7"/>
<circle cx="1630.0" cy="1002.5" r="4.7"/>
<circle cx="1640.5" cy="1005.4" r="4.7"/>
<circle cx="1640.5" cy="1006.3" r="4.7"/>
<circle cx="1646.7" cy="1005.5" r="4.7"/>
<circle cx="1557.2" cy="1005.4" r="4.7"/>
<circle cx="1557.2" cy="1006.3" r="4.7"/>
<circle cx="1584.2" cy="1007.8" r="4.7"/>
<circle cx="1609.2" cy="1009.5" r="4.7"/>
<circle cx="1630.0" cy="1011.3" r="4.7"/>
<circle cx="1629.2" cy="1017.9" r="4.7"/>
<circle cx="1629.2" cy="1018.8" r="4.7"/>
<circle cx="1630.0" cy="1024.2" r="4.7"/>
<circle cx="1642.2" cy="1026.7" r="4.7"/>
<circle cx="1604.5" cy="1025.8" r="4.7"/>
<circle cx="1595.8" cy="1029.2" r="4.7"/>
<circle cx="1595.8" cy="1035.0" r="4.7"/>
<circle cx="1595.0" cy="1042.8" r="4.7"/>
<circle cx="1604.5" cy="1043.3" r="4.7"/>
<circle cx="1609.2" cy="1040.8" r="4.7"/>
<circle cx="1632.5" cy="1035.4" r="4.7"/>
<circle cx="1632.5" cy="1036.3" r="4.7"/>
<circle cx="1632.5" cy="1040.8" r="4.7"/>
<circle cx="1632.5" cy="1044.5" r="4.7"/>
<circle cx="1632.5" cy="1045.5" r="4.7"/>
<circle cx="1660.3" cy="891.2" r="4.7"/>
<circle cx="1659.2" cy="907.8" r="4.7"/>
<circle cx="1658.3" cy="916.7" r="4.7"/>
<circle cx="1674.5" cy="927.2" r="4.7"/>
<circle cx="1694.2" cy="933.0" r="4.7"/>
<circle cx="1678.7" cy="955.5" r="4.7"/>
<circle cx="1726.7" cy="963.3" r="4.7"/>
<circle cx="1661.3" cy="968.3" r="4.7"/>
<circle cx="1659.7" cy="972.5" r="4.7"/>
<circle cx="1674.5" cy="977.8" r="4.7"/>
<circle cx="1658.7" cy="984.2" r="4.7"/>
<circle cx="1658.7" cy="992.5" r="4.7"/>
<circle cx="1659.2" cy="998.7" r="4.7"/>
<circle cx="1659.2" cy="999.6" r="4.7"/>
<circle cx="1661.3" cy="1003.7" r="4.7"/>
<circle cx="1661.3" cy="1004.6" r="4.7"/>
<circle cx="1690.8" cy="986.3" r="4.7"/>
<circle cx="1698.7" cy="994.7" r="4.7"/>
<circle cx="1658.3" cy="1016.2" r="4.7"/>
<circle cx="1658.3" cy="1017.1" r="4.7"/>
<circle cx="1690.8" cy="1016.7" r="4.7"/>
<circle cx="1690.8" cy="1021.3" r="4.7"/>
<circle cx="1659.2" cy="1029.5" r="4.7"/>
<circle cx="1659.2" cy="1030.5" r="4.7"/>
<circle cx="1660.0" cy="1032.5" r="4.7"/>
<circle cx="1687.8" cy="1033.3" r="4.7"/>
<circle cx="1661.3" cy="1042.5" r="4.7"/>
<circle cx="1658.7" cy="1045.3" r="4.7"/>
<circle cx="1691.2" cy="1044.9" r="4.7"/>
<circle cx="1691.2" cy="1045.8" r="4.7"/>
<circle cx="1738.7" cy="860.8" r="4.7"/>
<circle cx="1741.7" cy="905.0" r="4.7"/>
<circle cx="1741.7" cy="910.0" r="4.7"/>
<circle cx="1748.3" cy="913.3" r="4.7"/>
<circle cx="1738.3" cy="929.2" r="4.7"/>
<circle cx="1741.7" cy="934.2" r="4.7"/>
<circle cx="1757.5" cy="952.5" r="4.7"/>
<circle cx="1748.3" cy="958.3" r="4.7"/>
<circle cx="1741.7" cy="970.0" r="4.7"/>
<circle cx="1741.7" cy="974.2" r="4.7"/>
<circle cx="1738.3" cy="980.8" r="4.7"/>
<circle cx="1747.5" cy="979.7" r="4.7"/>
<circle cx="1738.3" cy="997.5" r="4.7"/>
<circle cx="1748.0" cy="999.2" r="4.7"/>
<circle cx="1743.1" cy="1001.6" r="4.7"/>
<circle cx="1743.3" cy="1002.5" r="4.7"/>
<circle cx="1743.6" cy="1003.4" r="4.7"/>
<circle cx="1749.2" cy="1004.7" r="4.7"/>
<circle cx="1738.3" cy="1012.5" r="4.7"/>
<circle cx="1748.3" cy="1025.8" r="4.7"/>
<circle cx="1741.7" cy="1032.5" r="4.7"/>
<circle cx="1748.3" cy="1032.9" r="4.7"/>
<circle cx="1748.3" cy="1033.8" r="4.7"/>
<circle cx="1748.3" cy="1040.5" r="4.7"/>
<circle cx="1779.7" cy="893.0" r="4.7"/>
<circle cx="1779.7" cy="905.5" r="4.7"/>
<circle cx="1779.7" cy="940.8" r="4.7"/>
<circle cx="1782.0" cy="976.3" r="4.7"/>
<circle cx="1779.5" cy="1008.3" r="4.7"/>
<circle cx="1846.2" cy="978.0" r="4.7"/>
<circle cx="1846.2" cy="1012.5" r="4.7"/>
<circle cx="1846.2" cy="1041.7" r="4.7"/>
<circle cx="1866.3" cy="878.0" r="4.7"/>
<circle cx="1866.3" cy="893.8" r="4.7"/>
<circle cx="1866.3" cy="938.8" r="4.7"/>
<circle cx="1866.3" cy="963.3" r="4.7"/>
<circle cx="1865.0" cy="989.2" r="4.7"/>
<circle cx="1865.0" cy="991.2" r="4.7"/>
<circle cx="1886.3" cy="988.7" r="4.7"/>
<circle cx="1866.3" cy="1008.8" r="4.7"/>
<circle cx="1866.3" cy="1019.7" r="4.7"/>
<circle cx="1866.3" cy="1023.7" r="4.7"/>
<circle cx="1897.5" cy="1040.3" r="4.7"/>
<circle cx="1921.2" cy="862.5" r="4.7"/>
<circle cx="1929.5" cy="899.7" r="4.7"/>
<circle cx="1927.2" cy="955.3" r="4.7"/>
<circle cx="1921.2" cy="988.0" r="4.7"/>
<circle cx="1921.2" cy="992.5" r="4.7"/>
<circle cx="1921.2" cy="1005.8" r="4.7"/>
<circle cx="1922.5" cy="1020.8" r="4.7"/>
<circle cx="1922.5" cy="1024.2" r="4.7"/>
<circle cx="1929.5" cy="1021.3" r="4.7"/>
<circle cx="1922.5" cy="1044.2" r="4.7"/>
<circle cx="1929.5" cy="1045.0" r="4.7"/>
<circle cx="1964.2" cy="909.5" r="4.7"/>
<circle cx="1965.0" cy="955.3" r="4.7"/>
<circle cx="1963.3" cy="993.3" r="4.7"/>
<circle cx="1962.5" cy="998.0" r="4.7"/>
<circle cx="1963.3" cy="1007.9" r="4.7"/>
<circle cx="1963.3" cy="1008.8" r="4.7"/>
<circle cx="1963.3" cy="1013.7" r="4.7"/>
<circle cx="1963.3" cy="1014.6" r="4.7"/>
<circle cx="1963.8" cy="1016.7" r="4.7"/>
<circle cx="1976.3" cy="1021.2" r="4.7"/>
<circle cx="1964.7" cy="1032.9" r="4.7"/>
<circle cx="1964.7" cy="1033.8" r="4.7"/>
<circle cx="1964.7" cy="1036.2" r="4.7"/>
<circle cx="1964.7" cy="1037.1" r="4.7"/>
<circle cx="1963.3" cy="1042.9" r="4.7"/>
<circle cx="1963.3" cy="1043.8" r="4.7"/>
<circle cx="1964.2" cy="1045.8" r="4.7"/>
<circle cx="1993.8" cy="932.5" r="4.7"/>
<circle cx="1993.8" cy="944.2" r="4.7"/>
<circle cx="1994.2" cy="955.0" r="4.7"/>
<circle cx="1994.2" cy="985.4" r="4.7"/>
<circle cx="1994.2" cy="986.3" r="4.7"/>
<circle cx="1994.5" cy="1005.0" r="4.7"/>
<circle cx="1993.6" cy="1020.3" r="4.7"/>
<circle cx="1993.8" cy="1021.2" r="4.7"/>
<circle cx="1994.1" cy="1022.1" r="4.7"/>
<circle cx="2002.5" cy="1024.2" r="4.7"/>
<circle cx="2001.3" cy="1036.3" r="4.7"/>
<circle cx="1994.5" cy="1040.5" r="4.7"/>
<circle cx="2032.3" cy="870.8" r="4.7"/>
<circle cx="2036.3" cy="873.5" r="4.7"/>
<circle cx="2035.3" cy="901.7" r="4.7"/>
<circle cx="2065.8" cy="893.8" r="4.7"/>
<circle cx="2079.5" cy="903.3" r="4.7"/>
<circle cx="2032.2" cy="944.4" r="4.7"/>
<circle cx="2032.5" cy="945.3" r="4.7"/>
<circle cx="2032.8" cy="946.2" r="4.7"/>
<circle cx="2069.5" cy="963.7" r="4.7"/>
<circle cx="2080.0" cy="969.2" r="4.7"/>
<circle cx="2069.5" cy="979.5" r="4.7"/>
<circle cx="2050.3" cy="984.2" r="4.7"/>
<circle cx="2065.8" cy="993.8" r="4.7"/>
<circle cx="2055.5" cy="997.5" r="4.7"/>
<circle cx="2032.0" cy="992.5" r="4.7"/>
<circle cx="2035.0" cy="996.7" r="4.7"/>
<circle cx="2035.0" cy="999.2" r="4.7"/>
<circle cx="2032.5" cy="1002.5" r="4.7"/>
<circle cx="2035.3" cy="1004.2" r="4.7"/>
<circle cx="2028.3" cy="1013.7" r="4.7"/>
<circle cx="2020.3" cy="1019.7" r="4.7"/>
<circle cx="2035.3" cy="1019.2" r="4.7"/>
<circle cx="2019.2" cy="1031.3" r="4.7"/>
<circle cx="2035.0" cy="1032.5" r="4.7"/>
<circle cx="2035.0" cy="1036.7" r="4.7"/>
<circle cx="2050.3" cy="1030.5" r="4.7"/>
<circle cx="2050.3" cy="1035.0" r="4.7"/>
<circle cx="2012.8" cy="1037.2" r="4.7"/>
<circle cx="2013.3" cy="1043.0" r="4.7"/>
<circle cx="2019.5" cy="1044.7" r="4.7"/>
<circle cx="2063.8" cy="1045.0" r="4.7"/>
<circle cx="2086.2" cy="905.0" r="4.7"/>
<circle cx="2094.5" cy="905.3" r="4.7"/>
<circle cx="2085.3" cy="927.5" r="4.7"/>
<circle cx="2114.5" cy="925.8" r="4.7"/>
<circle cx="2085.8" cy="935.8" r="4.7"/>
<circle cx="2085.8" cy="939.2" r="4.7"/>
<circle cx="2095.0" cy="963.3" r="4.7"/>
<circle cx="2086.2" cy="972.5" r="4.7"/>
<circle cx="2115.8" cy="970.8" r="4.7"/>
<circle cx="2120.8" cy="972.5" r="4.7"/>
<circle cx="2114.5" cy="980.3" r="4.7"/>
<circle cx="2094.5" cy="987.0" r="4.7"/>
<circle cx="2108.3" cy="985.0" r="4.7"/>
<circle cx="2109.5" cy="990.8" r="4.7"/>
<circle cx="2085.8" cy="1004.2" r="4.7"/>
<circle cx="2114.7" cy="1004.7" r="4.7"/>
<circle cx="2086.7" cy="1015.0" r="4.7"/>
<circle cx="2086.7" cy="1016.7" r="4.7"/>
<circle cx="2087.2" cy="1025.0" r="4.7"/>
<circle cx="2118.8" cy="1028.3" r="4.7"/>
<circle cx="2109.5" cy="1032.9" r="4.7"/>
<circle cx="2109.5" cy="1033.8" r="4.7"/>
<circle cx="2115.5" cy="1037.5" r="4.7"/>
<circle cx="2085.5" cy="1038.3" r="4.7"/>
<circle cx="2085.5" cy="1040.4" r="4.7"/>
<circle cx="2085.5" cy="1041.3" r="4.7"/>
<circle cx="2085.5" cy="1044.2" r="4.7"/>
<circle cx="2108.0" cy="1043.0" r="4.7"/>
<circle cx="2114.7" cy="1045.8" r="4.7"/>
<circle cx="2144.2" cy="911.7" r="4.7"/>
<circle cx="2141.3" cy="936.2" r="4.7"/>
<circle cx="2125.8" cy="953.3" r="4.7"/>
<circle cx="2131.7" cy="954.0" r="4.7"/>
<circle cx="2131.7" cy="955.0" r="4.7"/>
<circle cx="2131.3" cy="988.3" r="4.7"/>
<circle cx="2144.2" cy="999.2" r="4.7"/>
<circle cx="2144.2" cy="1000.1" r="4.7"/>
<circle cx="2140.8" cy="1044.7" r="4.7"/>
<circle cx="2145.0" cy="1044.2" r="4.7"/>
<circle cx="2145.0" cy="1045.1" r="4.7"/>
<circle cx="2195.3" cy="997.0" r="4.7"/>
<circle cx="2186.3" cy="1007.5" r="4.7"/>
<circle cx="2196.3" cy="1009.5" r="4.7"/>
<circle cx="2195.3" cy="1043.8" r="4.7"/>
<circle cx="2224.2" cy="890.3" r="4.7"/>
<circle cx="2217.2" cy="897.8" r="4.7"/>
<circle cx="2224.2" cy="896.7" r="4.7"/>
<circle cx="2212.0" cy="923.7" r="4.7"/>
<circle cx="2215.5" cy="928.0" r="4.7"/>
<circle cx="2211.3" cy="938.3" r="4.7"/>
<circle cx="2223.3" cy="938.3" r="4.7"/>
<circle cx="2216.7" cy="941.7" r="4.7"/>
<circle cx="2216.7" cy="942.6" r="4.7"/>
<circle cx="2223.3" cy="945.5" r="4.7"/>
<circle cx="2217.5" cy="954.5" r="4.7"/>
<circle cx="2215.5" cy="962.0" r="4.7"/>
<circle cx="2215.0" cy="978.8" r="4.7"/>
<circle cx="2215.0" cy="990.8" r="4.7"/>
<circle cx="2222.2" cy="992.1" r="4.7"/>
<circle cx="2222.5" cy="993.0" r="4.7"/>
<circle cx="2222.8" cy="993.9" r="4.7"/>
<circle cx="2210.0" cy="998.3" r="4.7"/>
<circle cx="2210.0" cy="1003.7" r="4.7"/>
<circle cx="2210.0" cy="1004.6" r="4.7"/>
<circle cx="2215.0" cy="1007.5" r="4.7"/>
<circle cx="2212.0" cy="1004.7" r="4.7"/>
<circle cx="2209.7" cy="1020.8" r="4.7"/>
<circle cx="2223.3" cy="1022.9" r="4.7"/>
<circle cx="2223.3" cy="1023.8" r="4.7"/>
<circle cx="2220.3" cy="1026.7" r="4.7"/>
<circle cx="2208.3" cy="1030.0" r="4.7"/>
<circle cx="2223.7" cy="1034.7" r="4.7"/>
<circle cx="2210.0" cy="1041.3" r="4.7"/>
<circle cx="2213.3" cy="1040.9" r="4.7"/>
<circle cx="2213.3" cy="1041.8" r="4.7"/>
<circle cx="2217.5" cy="1042.0" r="4.7"/>
<circle cx="2221.7" cy="1043.0" r="4.7"/>
<circle cx="2243.7" cy="945.3" r="4.7"/>
<circle cx="2240.0" cy="983.3" r="4.7"/>
<circle cx="2240.0" cy="990.5" r="4.7"/>
<circle cx="2240.0" cy="1000.0" r="4.7"/>
<circle cx="2244.7" cy="1001.7" r="4.7"/>
<circle cx="2243.3" cy="1016.7" r="4.7"/>
<circle cx="2240.0" cy="1022.5" r="4.7"/>
<circle cx="2236.7" cy="1028.8" r="4.7"/>
<circle cx="2244.7" cy="1029.2" r="4.7"/>
<circle cx="2237.2" cy="1042.2" r="4.7"/>
<circle cx="2252.0" cy="862.5" r="4.7"/>
<circle cx="2252.0" cy="869.2" r="4.7"/>
<circle cx="2252.5" cy="875.3" r="4.7"/>
<circle cx="2247.2" cy="882.1" r="4.7"/>
<circle cx="2247.5" cy="883.0" r="4.7"/>
<circle cx="2247.8" cy="883.9" r="4.7"/>
<circle cx="2252.0" cy="892.8" r="4.7"/>
<circle cx="2251.3" cy="914.2" r="4.7"/>
<circle cx="2251.4" cy="915.8" r="4.7"/>
<circle cx="2251.7" cy="916.7" r="4.7"/>
<circle cx="2251.9" cy="917.6" r="4.7"/>
<circle cx="2252.0" cy="918.7" r="4.7"/>
<circle cx="2247.5" cy="929.2" r="4.7"/>
<circle cx="2247.5" cy="930.1" r="4.7"/>
<circle cx="2252.0" cy="931.2" r="4.7"/>
<circle cx="2252.0" cy="932.1" r="4.7"/>
<circle cx="2252.0" cy="942.5" r="4.7"/>
<circle cx="2252.0" cy="946.3" r="4.7"/>
<circle cx="2250.0" cy="962.0" r="4.7"/>
<circle cx="2247.2" cy="967.2" r="4.7"/>
<circle cx="2247.5" cy="967.8" r="4.7"/>
<circle cx="2247.8" cy="968.2" r="4.7"/>
<circle cx="2247.2" cy="968.8" r="4.7"/>
<circle cx="2252.2" cy="975.3" r="4.7"/>
<circle cx="2252.5" cy="976.2" r="4.7"/>
<circle cx="2252.8" cy="977.1" r="4.7"/>
<circle cx="2248.3" cy="985.0" r="4.7"/>
<circle cx="2252.0" cy="986.7" r="4.7"/>
<circle cx="2259.2" cy="932.8" r="4.7"/>
<circle cx="2261.3" cy="935.0" r="4.7"/>
<circle cx="2258.3" cy="954.5" r="4.7"/>
<circle cx="2263.0" cy="963.3" r="4.7"/>
<circle cx="2258.3" cy="977.0" r="4.7"/>
<circle cx="2262.5" cy="992.5" r="4.7"/>
<circle cx="2258.3" cy="1004.2" r="4.7"/>
<circle cx="2262.5" cy="1031.7" r="4.7"/>
<circle cx="2263.7" cy="1035.0" r="4.7"/>
<circle cx="2287.5" cy="902.5" r="4.7"/>
<circle cx="2291.3" cy="904.2" r="4.7"/>
<circle cx="2291.3" cy="907.2" r="4.7"/>
<circle cx="2301.3" cy="927.2" r="4.7"/>
<circle cx="2300.0" cy="941.7" r="4.7"/>
<circle cx="2301.3" cy="950.8" r="4.7"/>
<circle cx="2293.3" cy="960.8" r="4.7"/>
<circle cx="2283.0" cy="980.3" r="4.7"/>
<circle cx="2301.3" cy="989.5" r="4.7"/>
<circle cx="2285.3" cy="1004.2" r="4.7"/>
<circle cx="2273.3" cy="1017.5" r="4.7"/>
<circle cx="2291.3" cy="1023.3" r="4.7"/>
<circle cx="2300.3" cy="1026.7" r="4.7"/>
<circle cx="2300.3" cy="1030.0" r="4.7"/>
<circle cx="2291.3" cy="1034.2" r="4.7"/>
<circle cx="2293.3" cy="1038.3" r="4.7"/>
<circle cx="2284.7" cy="1040.8" r="4.7"/>
<circle cx="2287.5" cy="1044.2" r="4.7"/>
<circle cx="2300.0" cy="1045.0" r="4.7"/>
<circle cx="2329.5" cy="885.0" r="4.7"/>
<circle cx="2331.7" cy="905.0" r="4.7"/>
<circle cx="2331.7" cy="915.0" r="4.7"/>
<circle cx="2330.0" cy="921.2" r="4.7"/>
<circle cx="2332.0" cy="947.5" r="4.7"/>
<circle cx="2331.7" cy="970.5" r="4.7"/>
<circle cx="2340.5" cy="994.7" r="4.7"/>
<circle cx="2332.0" cy="999.2" r="4.7"/>
<circle cx="2329.2" cy="1007.2" r="4.7"/>
<circle cx="2340.5" cy="1011.7" r="4.7"/>
<circle cx="2340.8" cy="1013.7" r="4.7"/>
<circle cx="2325.5" cy="1025.0" r="4.7"/>
<circle cx="2325.0" cy="1029.2" r="4.7"/>
<circle cx="2331.7" cy="1028.3" r="4.7"/>
<circle cx="2334.2" cy="1029.7" r="4.7"/>
<circle cx="2322.0" cy="1039.7" r="4.7"/>
<circle cx="2330.8" cy="1040.4" r="4.7"/>
<circle cx="2330.8" cy="1041.3" r="4.7"/>
<circle cx="2332.5" cy="1042.5" r="4.7"/>
<circle cx="2338.7" cy="1043.0" r="4.7"/>
<circle cx="2329.2" cy="1045.0" r="4.7"/>
<circle cx="2372.8" cy="861.2" r="4.7"/>
<circle cx="2372.8" cy="862.1" r="4.7"/>
<circle cx="2372.8" cy="878.0" r="4.7"/>
<circle cx="2372.8" cy="908.3" r="4.7"/>
<circle cx="2355.8" cy="931.3" r="4.7"/>
<circle cx="2372.8" cy="952.5" r="4.7"/>
<circle cx="2372.8" cy="969.7" r="4.7"/>
<circle cx="2373.0" cy="981.2" r="4.7"/>
<circle cx="2355.8" cy="984.7" r="4.7"/>
<circle cx="2372.0" cy="986.7" r="4.7"/>
<circle cx="2372.0" cy="992.0" r="4.7"/>
<circle cx="2372.0" cy="993.0" r="4.7"/>
<circle cx="2372.8" cy="1004.7" r="4.7"/>
<circle cx="2355.8" cy="1012.0" r="4.7"/>
<circle cx="2371.2" cy="1016.2" r="4.7"/>
<circle cx="2371.2" cy="1017.1" r="4.7"/>
<circle cx="2380.8" cy="1020.8" r="4.7"/>
<circle cx="2365.0" cy="1026.7" r="4.7"/>
<circle cx="2372.0" cy="1030.0" r="4.7"/>
<circle cx="2380.8" cy="1028.3" r="4.7"/>
<circle cx="2373.1" cy="1037.4" r="4.7"/>
<circle cx="2373.3" cy="1038.3" r="4.7"/>
<circle cx="2373.6" cy="1039.2" r="4.7"/>
<circle cx="2370.8" cy="1042.5" r="4.7"/>
<circle cx="2358.7" cy="1045.5" r="4.7"/>
<circle cx="265.5" cy="587.0" r="4.7"/>
<circle cx="184.2" cy="679.5" r="4.7"/>
<circle cx="265.5" cy="723.5" r="4.7"/>
<circle cx="265.5" cy="724.5" r="4.7"/>
<circle cx="286.8" cy="731.8" r="4.7"/>
<circle cx="163.8" cy="739.5" r="4.7"/>
<circle cx="141.8" cy="748.8" r="4.7"/>
<circle cx="202.5" cy="779.5" r="4.7"/>
<circle cx="224.2" cy="796.0" r="4.7"/>
<circle cx="295.0" cy="788.0" r="4.7"/>
<circle cx="295.0" cy="794.5" r="4.7"/>
<circle cx="286.8" cy="795.8" r="4.7"/>
<circle cx="295.0" cy="800.8" r="4.7"/>
<circle cx="318.0" cy="812.2" r="4.7"/>
<circle cx="257.5" cy="820.8" r="4.7"/>
<circle cx="286.8" cy="833.5" r="4.7"/>
<circle cx="158.0" cy="849.8" r="4.7"/>
<circle cx="253.8" cy="855.5" r="4.7"/>
<circle cx="335.0" cy="647.2" r="4.7"/>
<circle cx="381.8" cy="637.5" r="4.7"/>
<circle cx="451.0" cy="756.2" r="4.7"/>
<circle cx="407.5" cy="770.2" r="4.7"/>
<circle cx="407.8" cy="770.8" r="4.7"/>
<circle cx="408.0" cy="771.2" r="4.7"/>
<circle cx="407.5" cy="771.8" r="4.7"/>
<circle cx="407.8" cy="772.2" r="4.7"/>
<circle cx="416.0" cy="790.2" r="4.7"/>
<circle cx="454.5" cy="795.2" r="4.7"/>
<circle cx="411.0" cy="844.5" r="4.7"/>
<circle cx="454.5" cy="851.0" r="4.7"/>
<circle cx="517.0" cy="753.0" r="4.7"/>
<circle cx="614.0" cy="753.0" r="4.7"/>
<circle cx="614.0" cy="797.5" r="4.7"/>
<circle cx="614.0" cy="807.5" r="4.7"/>
<circle cx="613.0" cy="824.8" r="4.7"/>
<circle cx="614.0" cy="837.5" r="4.7"/>
<circle cx="702.8" cy="753.8" r="4.7"/>
<circle cx="739.5" cy="801.2" r="4.7"/>
<circle cx="865.0" cy="706.5" r="4.7"/>
<circle cx="851.5" cy="760.0" r="4.7"/>
<circle cx="865.0" cy="778.8" r="4.7"/>
<circle cx="989.0" cy="573.2" r="4.7"/>
<circle cx="997.0" cy="681.2" r="4.7"/>
<circle cx="983.5" cy="723.2" r="4.7"/>
<circle cx="989.0" cy="736.0" r="4.7"/>
<circle cx="989.0" cy="737.0" r="4.7"/>
<circle cx="989.0" cy="763.8" r="4.7"/>
<circle cx="989.0" cy="790.2" r="4.7"/>
<circle cx="1070.8" cy="781.0" r="4.7"/>
<circle cx="1080.5" cy="777.2" r="4.7"/>
<circle cx="1070.5" cy="847.0" r="4.7"/>
<circle cx="1111.2" cy="829.5" r="4.7"/>
<circle cx="1111.2" cy="830.5" r="4.7"/>
<circle cx="1111.2" cy="844.5" r="4.7"/>
<circle cx="1214.2" cy="850.5" r="4.7"/>
<circle cx="1239.5" cy="747.5" r="4.7"/>
<circle cx="1239.5" cy="758.8" r="4.7"/>
<circle cx="1243.0" cy="811.0" r="4.7"/>
<circle cx="1439.5" cy="720.5" r="4.7"/>
<circle cx="1429.5" cy="818.2" r="4.7"/>
<circle cx="1548.0" cy="683.2" r="4.7"/>
<circle cx="1548.0" cy="758.5" r="4.7"/>
<circle cx="1548.2" cy="794.5" r="4.7"/>
<circle cx="1595.8" cy="582.8" r="4.7"/>
<circle cx="1584.2" cy="745.5" r="4.7"/>
<circle cx="1600.5" cy="842.5" r="4.7"/>
<circle cx="1640.2" cy="834.0" r="4.7"/>
<circle cx="1632.5" cy="848.0" r="4.7"/>
<circle cx="1654.5" cy="563.2" r="4.7"/>
<circle cx="1658.2" cy="695.0" r="4.7"/>
<circle cx="1658.2" cy="816.2" r="4.7"/>
<circle cx="1661.8" cy="824.0" r="4.7"/>
<circle cx="1658.2" cy="828.8" r="4.7"/>
<circle cx="1658.2" cy="836.8" r="4.7"/>
<circle cx="1697.5" cy="852.5" r="4.7"/>
<circle cx="1742.0" cy="800.0" r="4.7"/>
<circle cx="1757.5" cy="714.0" r="4.7"/>
<circle cx="1927.5" cy="684.0" r="4.7"/>
<circle cx="1921.0" cy="728.0" r="4.7"/>
<circle cx="1921.0" cy="762.5" r="4.7"/>
<circle cx="1921.0" cy="769.0" r="4.7"/>
<circle cx="1962.5" cy="598.5" r="4.7"/>
<circle cx="1963.8" cy="649.5" r="4.7"/>
<circle cx="1965.0" cy="719.0" r="4.7"/>
<circle cx="1965.0" cy="739.0" r="4.7"/>
<circle cx="1965.0" cy="767.5" r="4.7"/>
<circle cx="1965.0" cy="821.8" r="4.7"/>
<circle cx="2032.2" cy="684.0" r="4.7"/>
<circle cx="2032.2" cy="742.2" r="4.7"/>
<circle cx="2032.2" cy="782.0" r="4.7"/>
<circle cx="2019.2" cy="788.8" r="4.7"/>
<circle cx="2035.5" cy="790.0" r="4.7"/>
<circle cx="2034.5" cy="812.2" r="4.7"/>
<circle cx="2013.0" cy="821.8" r="4.7"/>
<circle cx="2013.0" cy="830.0" r="4.7"/>
<circle cx="2047.5" cy="850.5" r="4.7"/>
<circle cx="2019.2" cy="855.0" r="4.7"/>
<circle cx="2114.5" cy="655.5" r="4.7"/>
<circle cx="2109.5" cy="727.5" r="4.7"/>
<circle cx="2085.5" cy="825.5" r="4.7"/>
<circle cx="2086.0" cy="834.2" r="4.7"/>
<circle cx="2249.5" cy="644.2" r="4.7"/>
<circle cx="2249.5" cy="653.5" r="4.7"/>
<circle cx="2249.5" cy="683.8" r="4.7"/>
<circle cx="2252.5" cy="686.8" r="4.7"/>
<circle cx="2223.2" cy="715.0" r="4.7"/>
<circle cx="2221.5" cy="732.2" r="4.7"/>
<circle cx="2252.0" cy="740.5" r="4.7"/>
<circle cx="2252.5" cy="750.3" r="4.7"/>
<circle cx="2252.5" cy="751.2" r="4.7"/>
<circle cx="2249.5" cy="758.0" r="4.7"/>
<circle cx="2252.5" cy="759.2" r="4.7"/>
<circle cx="2252.0" cy="764.5" r="4.7"/>
<circle cx="2247.2" cy="780.8" r="4.7"/>
<circle cx="2221.5" cy="798.0" r="4.7"/>
<circle cx="2252.0" cy="803.0" r="4.7"/>
<circle cx="2251.5" cy="810.0" r="4.7"/>
<circle cx="2212.2" cy="812.5" r="4.7"/>
<circle cx="2240.2" cy="814.8" r="4.7"/>
<circle cx="2218.2" cy="837.5" r="4.7"/>
<circle cx="2212.2" cy="844.5" r="4.7"/>
<circle cx="2252.0" cy="847.0" r="4.7"/>
<circle cx="2252.0" cy="848.0" r="4.7"/>
<circle cx="2285.2" cy="703.2" r="4.7"/>
<circle cx="2262.8" cy="808.2" r="4.7"/>
<circle cx="2262.8" cy="840.5" r="4.7"/>
<circle cx="2331.8" cy="822.8" r="4.7"/>
<circle cx="2331.8" cy="823.7" r="4.7"/>
<circle cx="2373.0" cy="747.5" r="4.7"/>
<circle cx="2374.5" cy="807.0" r="4.7"/>
<circle cx="2366.8" cy="815.0" r="4.7"/>
<circle cx="2366.8" cy="831.2" r="4.7"/>
<circle cx="295.3" cy="226.7" r="4.7"/>
<circle cx="258.7" cy="327.7" r="4.7"/>
<circle cx="294.7" cy="458.7" r="4.7"/>
<circle cx="265.3" cy="509.3" r="4.7"/>
<circle cx="287.0" cy="541.7" r="4.7"/>
<circle cx="553.0" cy="549.3" r="4.7"/>
<circle cx="702.7" cy="538.0" r="4.7"/>
<circle cx="1070.3" cy="474.3" r="4.7"/>
<circle cx="2220.7" cy="450.3" r="4.7"/>
<circle cx="2240.3" cy="534.3" r="4.7"/>
</g>
<circle cx="2013.5" cy="920.5" r="23.7" fill="#e60000"/>
<path d="M132.9 18.1V1114.8" stroke="#000" stroke-width="8.2" fill="none"/>
<path d="M128.8 1114.8H2381.7" stroke="#000" stroke-width="8.2" fill="none"/>
<path d="M132.9 1114.8v24.1M327.8 1114.8v24.1M517.0 1114.8v24.1M672.3 1114.8v24.1M821.0 1114.8v24.1M962.7 1114.8v24.1M1096.7 1114.8v24.1M1221.5 1114.8v24.1M1334.8 1114.8v24.1M1443.0 1114.8v24.1M1547.8 1114.8v24.1M1653.5 1114.8v24.1M1757.7 1114.8v24.1M1846.8 1114.8v24.1M1930.8 1114.8v24.1M2010.8 1114.8v24.1M2081.5 1114.8v24.1M2146.6 1114.8v24.1M2209.8 1114.8v24.1M2255.3 1114.8v24.1M2305.8 1114.8v24.1M2342.4 1114.8v24.1M132.9 1114.8h-24.1M132.9 840.6h-24.1M132.9 566.4h-24.1M132.9 292.3h-24.1M132.9 18.1h-24.1" stroke="#262626" stroke-width="3.7" fill="none"/>
<g font-family="Liberation Sans, Arial, sans-serif">
<text x="101.5" y="1125.8" font-size="29.3" fill="#444" text-anchor="end">0.0</text>
<text x="101.5" y="851.6" font-size="29.3" fill="#444" text-anchor="end">0.2</text>
<text x="101.5" y="577.4" font-size="29.3" fill="#444" text-anchor="end">0.4</text>
<text x="101.5" y="303.3" font-size="29.3" fill="#444" text-anchor="end">0.6</text>
<text x="101.5" y="29.1" font-size="29.3" fill="#444" text-anchor="end">0.8</text>
<text x="1257.3" y="1175.0" font-size="36.7" fill="#000" text-anchor="middle">Chromosomes</text>
<text transform="translate(44.4 566.3) rotate(-90)" font-size="36.7" fill="#000" text-anchor="middle">site.FST</text>
<text x="2012.8" y="880.7" font-size="36.7" fill="#000" text-anchor="middle">rs224222</text>
</g></svg></body></html>
